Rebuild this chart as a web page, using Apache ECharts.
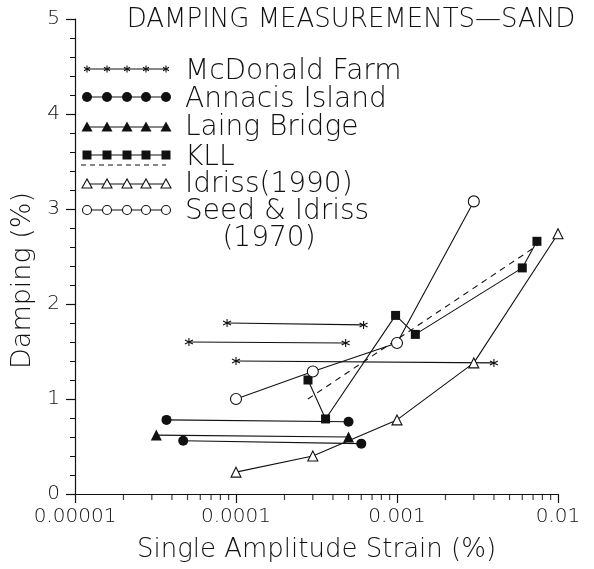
<!DOCTYPE html>
<html><head><meta charset="utf-8">
<script src="https://cdn.jsdelivr.net/npm/echarts@6/dist/echarts.min.js"></script>
<style>html,body{margin:0;padding:0;background:#fff}#c{width:594px;height:569px}</style>
</head><body><div id="c"></div>
<script>
const FONT = 'DejaVu Sans';
const FW = 200;
const INK = '#111';

// ---- axis ticks ----
const xTickLabels = ['0.00001', '0.0001', '0.001', '0.01'];
const xDecadeExps = [-5, -4, -3];
const xMinorMultipliers = [2, 3, 4, 5, 6, 7, 8, 9];
const yTickLabels = ['0', '1', '2', '3', '4', '5'];

// ---- data (strain %, damping %) ----
// McDonald Farm: three strain ranges
const mcdX1 = [8.8e-5, 6.2e-4], mcdY1 = [1.80, 1.78];
const mcdX2 = [5.1e-5, 4.8e-4], mcdY2 = [1.60, 1.59];
const mcdX3 = [1.0e-4, 4.0e-3], mcdY3 = [1.40, 1.38];
// Annacis Island: two ranges
const annX1 = [3.7e-5, 5.0e-4], annY1 = [0.78, 0.76];
const annX2 = [4.7e-5, 6.0e-4], annY2 = [0.56, 0.53];
// Laing Bridge
const laiX = [3.2e-5, 5.0e-4], laiY = [0.62, 0.60];
// KLL measured and trend (dashed)
const kllX = [2.8e-4, 3.6e-4, 9.8e-4, 1.3e-3, 6.0e-3, 7.4e-3];
const kllY = [1.20, 0.79, 1.88, 1.68, 2.38, 2.66];
const kllTrendX = [2.8e-4, 7.5e-3], kllTrendY = [1.00, 2.62];
// Idriss (1990)
const idrX = [1e-4, 3e-4, 1e-3, 3e-3, 1e-2];
const idrY = [0.23, 0.40, 0.78, 1.38, 2.74];
// Seed & Idriss (1970)
const seedX = [1e-4, 3e-4, 1e-3, 3e-3];
const seedY = [1.00, 1.29, 1.59, 3.08];

const STAR = 'path://M5,0L5,10M0.67,2.5L9.33,7.5M0.67,7.5L9.33,2.5';
const SYM = {
  star:   { symbol: STAR, size: 8, fill: INK, bw: 1.1 },
  dot:    { symbol: 'circle', size: 10, fill: INK, bw: 0 },
  tri:    { symbol: 'triangle', size: 11, fill: INK, bw: 0 },
  sq:     { symbol: 'rect', size: 9, fill: INK, bw: 0 },
  otri:   { symbol: 'triangle', size: 10, fill: '#fff', bw: 1.1 },
  ocirc:  { symbol: 'circle', size: 11, fill: '#fff', bw: 1.1 }
};

function lineSeries(name, xs, ys, symKey, dashed) {
  const s = SYM[symKey];
  return {
    name: name, type: 'line',
    data: xs.map((x, i) => [x, ys[i]]),
    symbol: s ? s.symbol : 'none',
    symbolSize: s ? s.size : 0,
    showSymbol: !!s,
    itemStyle: s ? { color: s.fill, borderColor: INK, borderWidth: s.bw } : undefined,
    lineStyle: { color: INK, width: 1.1, type: dashed ? [6, 5] : 'solid' },
    z: dashed ? 1 : 2,
    animation: false, silent: true
  };
}

const minorTickData = [];
xDecadeExps.forEach(e => xMinorMultipliers.forEach(m => minorTickData.push([m * Math.pow(10, e), 0])));

const series = [
  lineSeries('McDonald Farm', mcdX1, mcdY1, 'star'),
  lineSeries('McDonald Farm', mcdX2, mcdY2, 'star'),
  lineSeries('McDonald Farm', mcdX3, mcdY3, 'star'),
  lineSeries('Annacis Island', annX1, annY1, 'dot'),
  lineSeries('Annacis Island', annX2, annY2, 'dot'),
  lineSeries('Laing Bridge', laiX, laiY, 'tri'),
  lineSeries('KLL trend', kllTrendX, kllTrendY, null, true),
  lineSeries('KLL', kllX, kllY, 'sq'),
  lineSeries('Idriss(1990)', idrX, idrY, 'otri'),
  lineSeries('Seed & Idriss (1970)', seedX, seedY, 'ocirc'),
  {
    type: 'scatter', data: minorTickData, symbol: 'rect', symbolSize: [1.2, 6],
    symbolOffset: [0, 3], itemStyle: { color: INK }, clip: false, silent: true, animation: false
  }
];

// ---- legend drawn as graphic ----
const legendRows = [
  { label: 'McDonald Farm', sym: 'star', y: 69, ty: 72 },
  { label: 'Annacis Island', sym: 'dot', y: 97, ty: 100 },
  { label: 'Laing Bridge', sym: 'tri', y: 127, ty: 128 },
  { label: 'KLL', sym: 'sq', y: 155, ty: 158, dash: 165 },
  { label: 'Idriss(1990)', sym: 'otri', y: 184, ty: 185 },
  { label: 'Seed & Idriss', sym: 'ocirc', y: 210, ty: 212 }
];
const legX = [87, 107, 127, 146, 166];
const graphics = [];
function symGraphic(kind, cx, cy) {
  if (kind === 'star') {
    return [[0, -3.5, 0, 3.5], [-3, -1.75, 3, 1.75], [-3, 1.75, 3, -1.75]].map(l => ({
      type: 'line', shape: { x1: cx + l[0], y1: cy + l[1], x2: cx + l[2], y2: cy + l[3] },
      style: { stroke: INK, lineWidth: 1.1 }, z: 10 }));
  }
  if (kind === 'dot') return [{ type: 'circle', shape: { cx, cy, r: 5 }, style: { fill: INK }, z: 10 }];
  if (kind === 'sq') return [{ type: 'rect', shape: { x: cx - 4.5, y: cy - 4.5, width: 9, height: 9 }, style: { fill: INK }, z: 10 }];
  if (kind === 'tri') return [{ type: 'polygon', shape: { points: [[cx, cy - 5.5], [cx - 5.5, cy + 4.5], [cx + 5.5, cy + 4.5]] }, style: { fill: INK }, z: 10 }];
  if (kind === 'otri') return [{ type: 'polygon', shape: { points: [[cx, cy - 5], [cx - 5, cy + 4], [cx + 5, cy + 4]] }, style: { fill: '#fff', stroke: INK, lineWidth: 1.1 }, z: 10 }];
  if (kind === 'ocirc') return [{ type: 'circle', shape: { cx, cy, r: 4.5 }, style: { fill: '#fff', stroke: INK, lineWidth: 1.1 }, z: 10 }];
  return [];
}
const legFont = FW + ' 28px "' + FONT + '"';
legendRows.forEach(r => {
  graphics.push({ type: 'line', shape: { x1: legX[0], y1: r.y, x2: legX[4], y2: r.y }, style: { stroke: INK, lineWidth: 1.1 }, z: 9 });
  legX.forEach(x => symGraphic(r.sym, x, r.y).forEach(g => graphics.push(g)));
  if (r.dash) graphics.push({ type: 'line', shape: { x1: legX[0] - 6, y1: r.dash, x2: legX[4], y2: r.dash }, style: { stroke: INK, lineWidth: 1.1, lineDash: [5, 4] }, z: 9 });
  graphics.push({ type: 'text', x: 185, y: r.ty, style: { text: r.label, font: legFont, fill: INK, verticalAlign: 'middle' }, z: 10 });
});
graphics.push({ type: 'text', x: 269, y: 239, style: { text: '(1970)', font: legFont, fill: INK, align: 'center', verticalAlign: 'middle' }, z: 10 });
graphics.push({ type: 'text', x: 351, y: 20, style: { text: 'DAMPING MEASUREMENTS\u2014SAND', font: FW + ' 26px "' + FONT + '"', fill: INK, align: 'center', verticalAlign: 'middle' }, z: 10 });

const chart = echarts.init(document.getElementById('c'), null, { renderer: 'canvas' });
chart.setOption({
  backgroundColor: '#fff',
  animation: false,
  textStyle: { fontFamily: FONT, color: INK, fontWeight: FW },
  grid: { left: 75, right: 36, top: 19, bottom: 75 },
  xAxis: {
    type: 'log', logBase: 10, min: 1e-5, max: 1e-2,
    axisLine: { lineStyle: { color: INK, width: 1.2 } },
    axisTick: { length: 9, lineStyle: { color: INK, width: 1.2 } },
    splitLine: { show: false },
    axisLabel: {
      fontFamily: FONT, fontWeight: FW, fontSize: 20, color: INK, margin: 13,
      formatter: v => xTickLabels[Math.round(Math.log10(v)) + 5]
    },
    name: 'Single Amplitude Strain (%)', nameLocation: 'middle', nameGap: 43,
    nameTextStyle: { fontFamily: FONT, fontWeight: FW, fontSize: 26, color: INK }
  },
  yAxis: {
    type: 'value', min: 0, max: 5, interval: 1,
    axisLine: { show: true, lineStyle: { color: INK, width: 1.2 } },
    axisTick: { show: true, length: 9, lineStyle: { color: INK, width: 1.2 } },
    minorTick: { show: true, splitNumber: 5, length: 5, lineStyle: { color: INK, width: 1 } },
    splitLine: { show: false },
    axisLabel: {
      fontFamily: FONT, fontWeight: FW, fontSize: 20, color: INK, margin: 15,
      formatter: v => yTickLabels[Math.round(v)]
    },
    name: 'Damping (%)', nameLocation: 'middle', nameGap: 36,
    nameTextStyle: { fontFamily: FONT, fontWeight: FW, fontSize: 27, color: INK, padding: [0, 48, 0, 0] }
  },
  graphic: graphics,
  series: series
});
</script>
</body></html>
